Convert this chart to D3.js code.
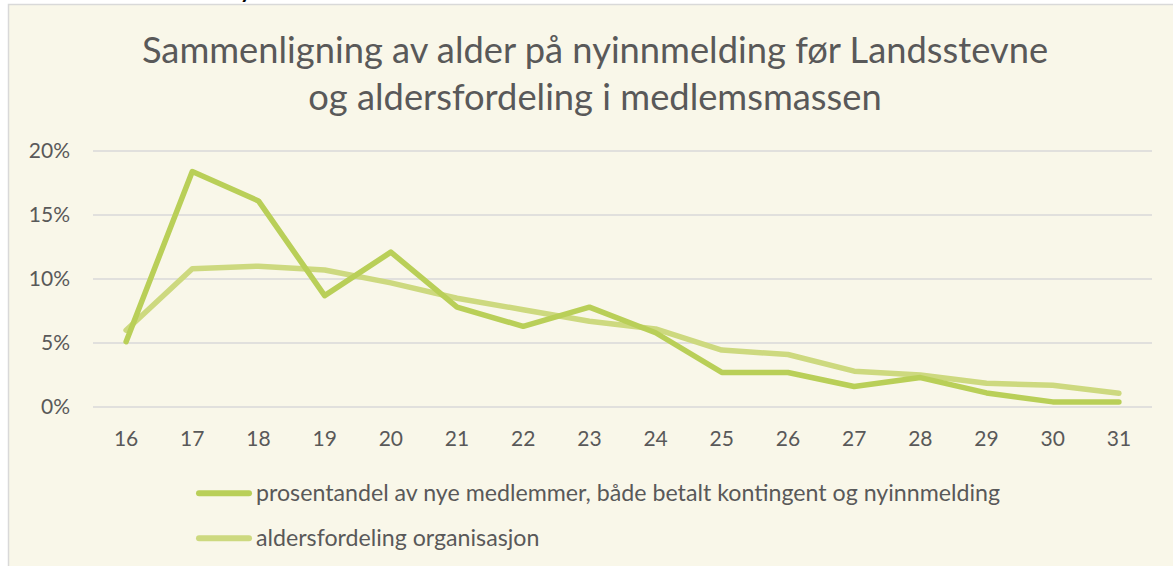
<!DOCTYPE html>
<html>
<head>
<meta charset="utf-8">
<script src="https://cdn.jsdelivr.net/npm/d3@7"></script>
<style>
  body { margin: 0; background: #ffffff; }
  svg { display: block; }
</style>
</head>
<body>
<div class="chart"></div>
<script>
// data
let ages = ["16","17","18","19","20","21","22","23","24","25","26","27","28","29","30","31"];
let nyeMedlemmer = [5.1, 18.4, 16.1, 8.7, 12.1, 7.8, 6.3, 7.8, 5.8, 2.7, 2.7, 1.6, 2.3, 1.1, 0.4, 0.4];
let aldersfordeling = [6.0, 10.8, 11.0, 10.7, 9.7, 8.5, 7.6, 6.7, 6.1, 4.45, 4.1, 2.8, 2.5, 1.85, 1.7, 1.07];
let yTicks = [0, 5, 10, 15, 20];
let seriesNames = ["prosentandel av nye medlemmer, både betalt kontingent og nyinnmelding", "aldersfordeling organisasjon"];
let titleLines = ["Sammenligning av alder på nyinnmelding før Landsstevne", "og aldersfordeling i medlemsmassen"];

let svgW = 1173;
let svgH = 566;

let margin = { top: 151, right: 21, bottom: 159, left: 93 };
let width = svgW - margin.left - margin.right;
let height = svgH - margin.top - margin.bottom;

let fontFam = "'Source Sans Pro', Lato, sans-serif";
let textCol = "#595959";
let colors = ["#b9cf58", "#cdd97f"];

let svg = d3.select(".chart")
  .append("svg")
  .attr("width", svgW)
  .attr("height", svgH);

// chart frame
svg.append("rect")
  .attr("x", 8.5)
  .attr("y", 4.5)
  .attr("width", 1180)
  .attr("height", 600)
  .attr("fill", "#f9f7e9")
  .attr("stroke", "#d9d9d9")
  .attr("stroke-width", 1.5);

// bit of text cut off above the frame
svg.append("text")
  .attr("x", 240)
  .attr("y", -2.5)
  .style("font-family", fontFam)
  .style("font-size", "22px")
  .style("font-weight", "bold")
  .attr("fill", "#000")
  .text("y");

// title
svg.append("g").selectAll("text")
  .data(titleLines)
  .enter()
  .append("text")
  .attr("x", 595)
  .attr("y", (d, i) => 63 + i * 47)
  .attr("text-anchor", "middle")
  .style("font-family", fontFam)
  .style("font-size", "36.3px")
  .attr("fill", textCol)
  .text(d => d);

let chartGroup = svg.append("g")
  .attr("transform", `translate(${margin.left}, ${margin.top})`);

let xScale = d3.scaleBand()
  .domain(ages)
  .range([0, width]);

let yScale = d3.scaleLinear()
  .domain([0, 20])
  .range([height, 0]);

// gridlines
chartGroup.append("g")
  .selectAll("line")
  .data(yTicks)
  .enter()
  .append("line")
  .attr("x1", 0)
  .attr("x2", width)
  .attr("y1", d => yScale(d))
  .attr("y2", d => yScale(d))
  .attr("stroke", "#d9d9d9")
  .attr("stroke-width", 1.5);

// y axis labels
let leftAxis = d3.axisLeft(yScale)
  .tickValues(yTicks)
  .tickFormat(d => d + "%")
  .tickSize(0)
  .tickPadding(23);

let yAxis = chartGroup.append("g").call(leftAxis);
yAxis.select(".domain").remove();
yAxis.selectAll("text")
  .style("font-family", fontFam)
  .style("font-size", "21px")
  .attr("fill", textCol);

// x axis labels
let bottomAxis = d3.axisBottom(xScale)
  .tickSize(0)
  .tickPadding(24);

let xAxis = chartGroup.append("g")
  .attr("transform", `translate(0, ${height})`)
  .call(bottomAxis);
xAxis.select(".domain").remove();
xAxis.selectAll("text")
  .style("font-family", fontFam)
  .style("font-size", "21px")
  .attr("fill", textCol);

// lines
let line = d3.line()
  .x((d, i) => xScale(ages[i]) + xScale.bandwidth() / 2)
  .y(d => yScale(d))
  .curve(d3.curveLinear);

[aldersfordeling, nyeMedlemmer].forEach(function(vals, k) {
  let idx = k === 0 ? 1 : 0;
  chartGroup.append("path")
    .datum(vals)
    .attr("d", line)
    .attr("fill", "none")
    .attr("stroke", colors[idx])
    .attr("stroke-width", 5.5)
    .attr("stroke-linejoin", "round")
    .attr("stroke-linecap", "round");
});

// legend
let legend = svg.append("g").selectAll("g")
  .data(seriesNames)
  .enter()
  .append("g")
  .attr("transform", (d, i) => `translate(199, ${493.3 + i * 45})`);

legend.append("line")
  .attr("x1", 0)
  .attr("x2", 50)
  .attr("stroke", (d, i) => colors[i])
  .attr("stroke-width", 6)
  .attr("stroke-linecap", "round");

legend.append("text")
  .attr("x", 57)
  .attr("dy", "0.35em")
  .style("font-family", fontFam)
  .style("font-size", "23.2px")
  .attr("fill", textCol)
  .text(d => d);
</script>
</body>
</html>
